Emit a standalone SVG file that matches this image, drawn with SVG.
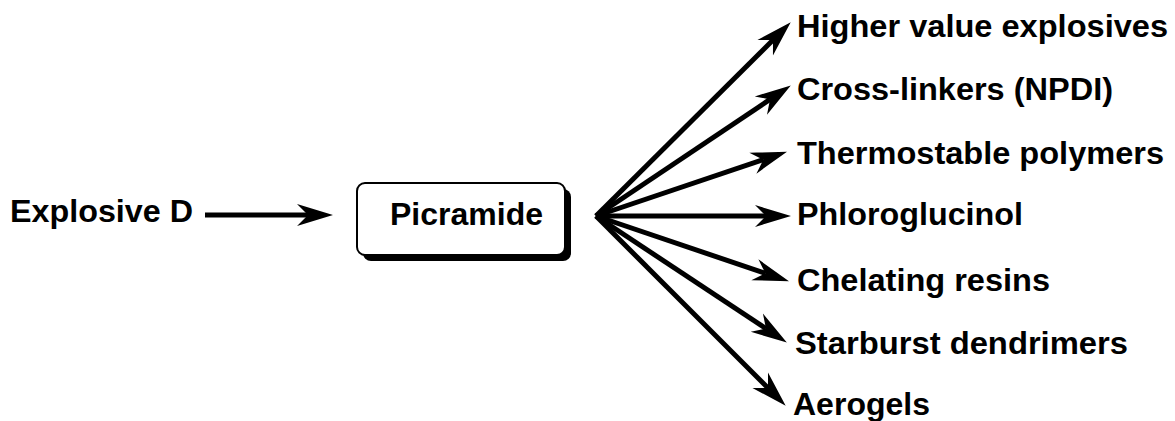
<svg xmlns="http://www.w3.org/2000/svg" width="1175" height="421" viewBox="0 0 1175 421">
<style>
text{font-family:"Liberation Sans",Arial,Helvetica,sans-serif;font-weight:bold;font-size:32px;fill:#000}
.conn line{stroke:#000;stroke-width:5;fill:none;marker-end:url(#ah)}
</style>
<defs>
<marker id="ah" markerUnits="userSpaceOnUse" viewBox="-12 -12 40 24" refX="0" refY="0" markerWidth="40" markerHeight="24" orient="auto" overflow="visible">
<path d="M25,0 L-11,-11 L0,0 L-11,11 Z" fill="#000"/>
</marker>
</defs>
<rect width="1175" height="421" fill="#fff"/>
<g id="explosive-d"><text x="10" y="222" textLength="183" lengthAdjust="spacingAndGlyphs">Explosive D</text></g>
<g id="picramide">
<rect x="363" y="189" width="208" height="72" rx="8" fill="#000"/>
<rect x="357" y="183" width="208" height="72" rx="8" fill="#fff" stroke="#000" stroke-width="2"/>
<text x="390" y="225" textLength="153" lengthAdjust="spacingAndGlyphs">Picramide</text>
</g>
<g id="higher-value-explosives"><text x="797" y="37" textLength="371" lengthAdjust="spacingAndGlyphs">Higher value explosives</text></g>
<g id="cross-linkers"><text x="797" y="100" textLength="316" lengthAdjust="spacingAndGlyphs">Cross-linkers (NPDI)</text></g>
<g id="thermostable-polymers"><text x="797" y="164" textLength="367" lengthAdjust="spacingAndGlyphs">Thermostable polymers</text></g>
<g id="phloroglucinol"><text x="797" y="225" textLength="226" lengthAdjust="spacingAndGlyphs">Phloroglucinol</text></g>
<g id="chelating-resins"><text x="797" y="291" textLength="253" lengthAdjust="spacingAndGlyphs">Chelating resins</text></g>
<g id="starburst-dendrimers"><text x="795" y="354" textLength="333" lengthAdjust="spacingAndGlyphs">Starburst dendrimers</text></g>
<g id="aerogels"><text x="793" y="415" textLength="137" lengthAdjust="spacingAndGlyphs">Aerogels</text></g>
<g id="connectors" class="conn">
<line x1="205" y1="215" x2="308" y2="215"/>
<line x1="596" y1="216" x2="773" y2="40"/>
<line x1="596" y1="216" x2="770" y2="99.4"/>
<line x1="596" y1="216" x2="763.3" y2="159.7"/>
<line x1="596" y1="216" x2="766" y2="216"/>
<line x1="596" y1="216" x2="765.3" y2="273.3"/>
<line x1="596" y1="216" x2="766" y2="328.7"/>
<line x1="596" y1="216" x2="768" y2="388"/>
</g>
</svg>
